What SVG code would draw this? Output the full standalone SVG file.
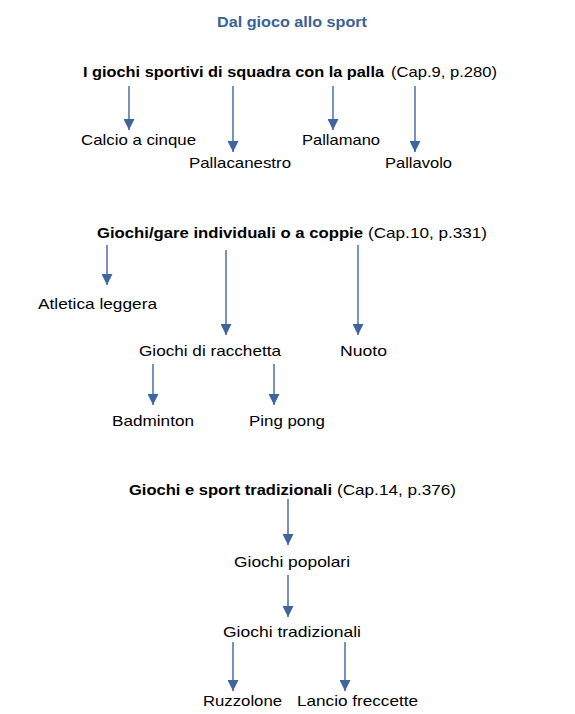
<svg xmlns="http://www.w3.org/2000/svg" width="575" height="714" viewBox="0 0 575 714">
<defs>
<marker id="ah" markerUnits="userSpaceOnUse" markerWidth="11" markerHeight="11" refX="11" refY="5.5" orient="auto">
<path d="M0,0 L11,5.5 L0,11 z" fill="#3F669C"/>
</marker>
<style>
text{font-family:"Liberation Sans",Arial,sans-serif;font-size:15px;fill:#000}
.b{font-weight:bold}
.t{font-weight:bold;fill:#3A6296}
.c line{stroke:#3F669C;stroke-width:1.4;marker-end:url(#ah)}
</style>
</defs>
<rect width="575" height="714" fill="#fff"/>
<g id="title"><text class="t" x="217" y="27" textLength="150" lengthAdjust="spacingAndGlyphs">Dal gioco allo sport</text></g>

<g id="h1"><text class="b" x="83" y="77" textLength="301" lengthAdjust="spacingAndGlyphs">I giochi sportivi di squadra con la palla</text><text x="391" y="77" textLength="106" lengthAdjust="spacingAndGlyphs">(Cap.9, p.280)</text></g>
<g id="n-calcio"><text x="81" y="145" textLength="115" lengthAdjust="spacingAndGlyphs">Calcio a cinque</text></g>
<g id="n-pallacanestro"><text x="189" y="168" textLength="102" lengthAdjust="spacingAndGlyphs">Pallacanestro</text></g>
<g id="n-pallamano"><text x="302" y="145" textLength="78" lengthAdjust="spacingAndGlyphs">Pallamano</text></g>
<g id="n-pallavolo"><text x="385" y="168" textLength="67" lengthAdjust="spacingAndGlyphs">Pallavolo</text></g>

<g id="h2"><text class="b" x="97" y="238" textLength="266" lengthAdjust="spacingAndGlyphs">Giochi/gare individuali o a coppie</text><text x="368" y="238" textLength="119" lengthAdjust="spacingAndGlyphs">(Cap.10, p.331)</text></g>
<g id="n-atletica"><text x="38" y="309" textLength="119" lengthAdjust="spacingAndGlyphs">Atletica leggera</text></g>
<g id="n-racchetta"><text x="139" y="356" textLength="142" lengthAdjust="spacingAndGlyphs">Giochi di racchetta</text></g>
<g id="n-nuoto"><text x="340" y="356" textLength="47" lengthAdjust="spacingAndGlyphs">Nuoto</text></g>
<g id="n-badminton"><text x="112" y="426" textLength="82" lengthAdjust="spacingAndGlyphs">Badminton</text></g>
<g id="n-pingpong"><text x="249" y="426" textLength="76" lengthAdjust="spacingAndGlyphs">Ping pong</text></g>

<g id="h3"><text class="b" x="129" y="495" textLength="203" lengthAdjust="spacingAndGlyphs">Giochi e sport tradizionali</text><text x="337" y="495" textLength="119" lengthAdjust="spacingAndGlyphs">(Cap.14, p.376)</text></g>
<g id="n-popolari"><text x="234" y="567" textLength="116" lengthAdjust="spacingAndGlyphs">Giochi popolari</text></g>
<g id="n-tradizionali"><text x="223" y="637" textLength="138" lengthAdjust="spacingAndGlyphs">Giochi tradizionali</text></g>
<g id="n-ruzzolone"><text x="203" y="706" textLength="79" lengthAdjust="spacingAndGlyphs">Ruzzolone</text></g>
<g id="n-freccette"><text x="297" y="706" textLength="121" lengthAdjust="spacingAndGlyphs">Lancio freccette</text></g>

<g id="connectors" class="c">
<line x1="129" y1="86" x2="129" y2="130"/>
<line x1="233" y1="86" x2="233" y2="152"/>
<line x1="333" y1="86" x2="333" y2="130"/>
<line x1="415" y1="86" x2="415" y2="152"/>
<line x1="107" y1="245" x2="107" y2="285"/>
<line x1="226" y1="250" x2="226" y2="335"/>
<line x1="358" y1="245" x2="358" y2="335"/>
<line x1="153" y1="364" x2="153" y2="405"/>
<line x1="274" y1="364" x2="274" y2="405"/>
<line x1="288" y1="499" x2="288" y2="545"/>
<line x1="288" y1="575" x2="288" y2="617"/>
<line x1="233" y1="642" x2="233" y2="691"/>
<line x1="345" y1="642" x2="345" y2="691"/>
</g>
</svg>
